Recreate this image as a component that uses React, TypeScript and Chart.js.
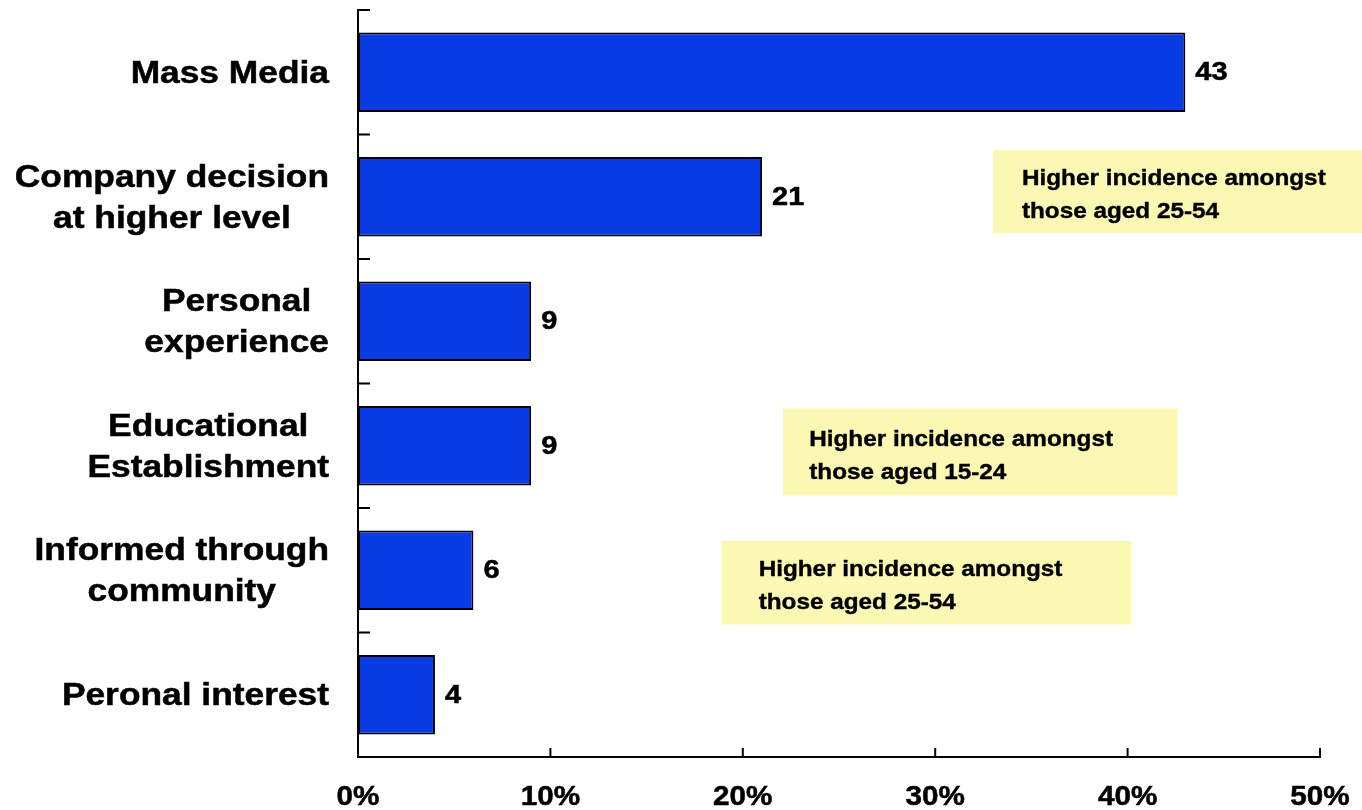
import React, { useEffect, useRef } from "react";
import { Chart, registerables } from "chart.js";

Chart.register(...registerables);

// ---- data ----
const categories: string[][] = [
  ["Mass Media"],
  ["Company decision", "at higher level"],
  ["Personal", "experience"],
  ["Educational", "Establishment"],
  ["Informed through", "community"],
  ["Peronal interest"],
];
const values: number[] = [43, 21, 9, 9, 6, 4];
const xTickValues: number[] = [0, 10, 20, 30, 40, 50];
const noteTexts: string[][] = [
  ["Higher incidence amongst", "those aged 25-54"],
  ["Higher incidence amongst", "those aged 15-24"],
  ["Higher incidence amongst", "those aged 25-54"],
];
const noteCategoryIndex: number[] = [1, 3, 4];

// ---- layout / style (not data) ----
const FONT = '"Liberation Sans", Arial, sans-serif';
const noteLayout = [
  { x0: 33.0, x1: 52.3, dy: -0.04, h: 0.67, padX: 29 },
  { x0: 22.1, x1: 42.6, dy: 0.05, h: 0.70, padX: 26 },
  { x0: 18.9, x1: 40.2, dy: 0.10, h: 0.67, padX: 37 },
];

function stretchText(
  ctx: CanvasRenderingContext2D,
  text: string,
  x: number,
  y: number,
  align: CanvasTextAlign,
  sx: number,
  heavy = 0.5
) {
  ctx.save();
  ctx.translate(x, y);
  ctx.scale(sx, 1);
  ctx.textAlign = align;
  ctx.fillText(text, 0, 0);
  if (heavy > 0) {
    ctx.lineWidth = heavy;
    ctx.strokeStyle = ctx.fillStyle as string;
    ctx.strokeText(text, 0, 0);
  }
  ctx.restore();
}

const overlayPlugin = {
  id: "overlay",
  beforeDatasetsDraw(chart: any) {
    const { ctx, scales } = chart;
    const x = scales.x;
    const y = scales.y;
    ctx.save();
    // note boxes
    noteTexts.forEach((lines, i) => {
      const L = noteLayout[i];
      const c = noteCategoryIndex[i] + L.dy;
      const left = x.getPixelForValue(L.x0);
      const right = x.getPixelForValue(L.x1);
      const top = y.getPixelForValue(c - L.h / 2);
      const bottom = y.getPixelForValue(c + L.h / 2);
      ctx.fillStyle = "#FBF8B4";
      ctx.fillRect(left, top, right - left, bottom - top);
      ctx.fillStyle = "#000";
      ctx.font = `bold 22.5px ${FONT}`;
      ctx.textBaseline = "middle";
      const mid = (top + bottom) / 2 + 4;
      const lh = 33;
      lines.forEach((t, k) => {
        const ty = mid + (k - (lines.length - 1) / 2) * lh;
        stretchText(ctx, t, left + L.padX, ty, "left", 1.08, 0.4);
      });
    });
    ctx.restore();
  },
  afterDatasetsDraw(chart: any) {
    const { ctx, chartArea, scales } = chart;
    const x = scales.x;
    const y = scales.y;
    ctx.save();
    ctx.strokeStyle = "#000";
    ctx.lineWidth = 2;
    // x tick marks (inside)
    xTickValues.forEach((v) => {
      const px = x.getPixelForValue(v);
      ctx.beginPath();
      ctx.moveTo(px, chartArea.bottom);
      ctx.lineTo(px, chartArea.bottom - 9);
      ctx.stroke();
    });
    // y tick marks at category boundaries (inside)
    for (let i = 0; i <= categories.length; i++) {
      const py = y.getPixelForValue(i - 0.5);
      ctx.beginPath();
      ctx.moveTo(chartArea.left, py);
      ctx.lineTo(chartArea.left + 12, py);
      ctx.stroke();
    }
    // value labels
    ctx.fillStyle = "#000";
    ctx.textBaseline = "middle";
    ctx.font = `bold 25px ${FONT}`;
    values.forEach((v, i) => {
      const px = x.getPixelForValue(v);
      const py = y.getPixelForValue(i);
      stretchText(ctx, String(v), px + 10, py + 1, "left", 1.16);
    });
    // x tick labels
    ctx.font = `bold 28px ${FONT}`;
    xTickValues.forEach((v) => {
      const px = x.getPixelForValue(v);
      stretchText(ctx, v + "%", px, chartArea.bottom + 40, "center", 1.06);
    });
    // y category labels: block right-aligned, lines centred
    ctx.font = `bold 31px ${FONT}`;
    const sx = 1.14;
    const lh = 41;
    const rightEdge = chartArea.left - 29;
    categories.forEach((lines, i) => {
      const py = y.getPixelForValue(i);
      const maxW = Math.max(...lines.map((t) => ctx.measureText(t).width * sx));
      const cx = rightEdge - maxW / 2;
      lines.forEach((t, k) => {
        const ty = py + (k - (lines.length - 1) / 2) * lh + 2;
        stretchText(ctx, t, cx, ty, "center", sx);
      });
    });
    ctx.restore();
  },
};

export default function App() {
  const canvasRef = useRef<HTMLCanvasElement | null>(null);

  useEffect(() => {
    if (!canvasRef.current) return;
    const chart = new Chart(canvasRef.current, {
      type: "bar",
      data: {
        labels: categories.map((c) => c.join(" ")),
        datasets: [
          {
            data: values,
            backgroundColor: "#0A3CE6",
            borderColor: "#000",
            borderWidth: 2,
            borderSkipped: false,
            barPercentage: 0.64,
            categoryPercentage: 1,
          },
        ],
      },
      options: {
        indexAxis: "y",
        responsive: false,
        animation: false,
        events: [],
        layout: { padding: { top: 10, right: 42, left: 0, bottom: 0 } },
        plugins: {
          legend: { display: false },
          tooltip: { enabled: false },
          title: { display: false },
        },
        scales: {
          x: {
            type: "linear",
            min: 0,
            max: 50,
            grid: { display: false },
            border: { display: true, color: "#000", width: 2 },
            ticks: { display: false, stepSize: 10 },
            afterFit: (s: any) => {
              s.height = 53;
            },
          },
          y: {
            type: "category",
            offset: true,
            grid: { display: false },
            border: { display: true, color: "#000", width: 2 },
            ticks: { display: false },
            afterFit: (s: any) => {
              s.width = 358;
            },
          },
        },
      },
      plugins: [overlayPlugin],
    });
    return () => chart.destroy();
  }, []);

  return (
    <div style={{ position: "fixed", left: 0, top: 0, width: 1362, height: 810, background: "#fff" }}>
      <canvas ref={canvasRef} width={1362} height={810} style={{ display: "block" }} />
    </div>
  );
}
